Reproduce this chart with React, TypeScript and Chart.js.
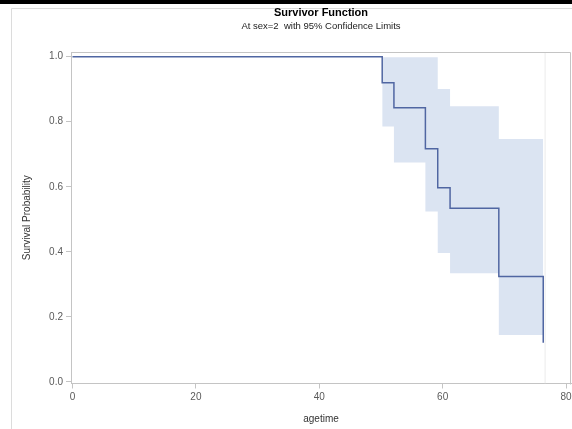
import React, { useEffect, useRef } from 'react';
import { Chart, registerables } from 'chart.js';

Chart.register(...registerables);

// ---- Data ----
const eventTimes = [0, 50.2, 52.1, 57.2, 59.2, 61.2, 69.1, 76.3];
const survival = [1.0, 0.92, 0.843, 0.717, 0.597, 0.534, 0.324, 0.12];
const bandTimes = [50.2, 52.1, 57.2, 59.2, 61.2, 69.1, 76.3];
const upperCL = [0.998, 0.998, 0.998, 0.901, 0.848, 0.747, 0.747];
const lowerCL = [0.785, 0.675, 0.524, 0.396, 0.334, 0.144, 0.144];
const refLineX = 76.6;
const xTicks = [0, 20, 40, 60, 80];
const yTicks = [0, 0.2, 0.4, 0.6, 0.8, 1.0];
const titleText = 'Survivor Function';
const subtitleText = 'At sex=2  with 95% Confidence Limits';
const xTitle = 'agetime';
const yTitle = 'Survival Probability';

const X_MIN = -0.24;
const X_MAX = 80.8;
const Y_MIN = -0.005;
const Y_MAX = 1.0145;

const FONT = '"Liberation Sans", Arial, sans-serif';
const FRAME = '#c4c4c4';

const decorPlugin = {
  id: 'decor',
  beforeDraw(chart: any) {
    const { ctx, width, height } = chart;
    ctx.save();
    ctx.fillStyle = '#ffffff';
    ctx.fillRect(0, 0, width, height);
    ctx.fillStyle = '#000000';
    ctx.fillRect(0, 0, width, 4);
    ctx.strokeStyle = '#dcdcdc';
    ctx.lineWidth = 1;
    ctx.beginPath();
    ctx.moveTo(11.5, height);
    ctx.lineTo(11.5, 8.5);
    ctx.lineTo(width, 8.5);
    ctx.stroke();
    ctx.restore();
  },
  afterDraw(chart: any) {
    const { ctx, chartArea } = chart;
    const { left, right, top, bottom } = chartArea;
    ctx.save();
    ctx.strokeStyle = FRAME;
    ctx.lineWidth = 1;
    ctx.beginPath();
    ctx.moveTo(Math.round(left) + 0.5, Math.round(top) + 0.5);
    ctx.lineTo(Math.round(right) - 0.5, Math.round(top) + 0.5);
    ctx.lineTo(Math.round(right) - 0.5, Math.round(bottom) + 0.5);
    ctx.stroke();
    const cx = (left + right) / 2;
    ctx.textAlign = 'center';
    ctx.textBaseline = 'middle';
    ctx.fillStyle = '#000000';
    ctx.font = `bold 11px ${FONT}`;
    ctx.fillText(titleText, cx, 13);
    ctx.fillStyle = '#222222';
    ctx.font = `9.5px ${FONT}`;
    ctx.fillText(subtitleText, cx, 26);
    ctx.restore();
  },
};

export default function App() {
  const ref = useRef<HTMLCanvasElement | null>(null);

  useEffect(() => {
    if (!ref.current) return;
    const survData = eventTimes.map((t, i) => ({ x: t, y: survival[i] }));
    const upData = bandTimes.map((t, i) => ({ x: t, y: upperCL[i] }));
    const loData = bandTimes.map((t, i) => ({ x: t, y: lowerCL[i] }));
    const refData = [
      { x: refLineX, y: Y_MIN },
      { x: refLineX, y: Y_MAX },
    ];
    const chart = new Chart(ref.current, {
      type: 'line',
      data: {
        datasets: [
          {
            label: 'Survival',
            data: survData,
            stepped: true,
            borderColor: '#5066a2',
            borderWidth: 1.5,
            pointRadius: 0,
            fill: false,
          },
          {
            label: 'Upper',
            data: upData,
            stepped: true,
            borderWidth: 0,
            borderColor: 'rgba(0,0,0,0)',
            backgroundColor: 'rgb(219,228,242)',
            pointRadius: 0,
            fill: '+1',
          },
          {
            label: 'Lower',
            data: loData,
            stepped: true,
            borderWidth: 0,
            borderColor: 'rgba(0,0,0,0)',
            pointRadius: 0,
            fill: false,
          },
          {
            label: 'Ref',
            data: refData,
            borderColor: '#ebebeb',
            borderWidth: 1,
            pointRadius: 0,
            fill: false,
          },
        ],
      },
      options: {
        responsive: false,
        animation: false,
        devicePixelRatio: 1,
        layout: { padding: { top: 52, right: 1, left: 0, bottom: 0 } },
        plugins: {
          legend: { display: false },
          tooltip: { enabled: false },
          title: { display: false },
        },
        scales: {
          x: {
            type: 'linear',
            min: X_MIN,
            max: X_MAX,
            afterBuildTicks: (s: any) => {
              s.ticks = xTicks.map((v) => ({ value: v }));
            },
            afterFit: (s: any) => {
              s.height = 45.5;
              s.paddingLeft = 0;
              s.paddingRight = 0;
            },
            grid: {
              drawOnChartArea: false,
              drawTicks: true,
              tickLength: 5,
              color: FRAME,
            },
            border: { display: true, color: FRAME },
            ticks: {
              color: '#5a5a5a',
              font: { family: FONT, size: 10 },
              padding: 3,
              maxRotation: 0,
              callback: (v: any) => String(v),
            },
            title: {
              display: true,
              text: xTitle,
              color: '#333333',
              font: { family: FONT, size: 10 },
              padding: { top: 0, bottom: 4 },
            },
          },
          y: {
            type: 'linear',
            min: Y_MIN,
            max: Y_MAX,
            afterBuildTicks: (s: any) => {
              s.ticks = yTicks.map((v) => ({ value: v }));
            },
            afterFit: (s: any) => {
              s.width = 71;
              s.paddingTop = 0;
              s.paddingBottom = 0;
            },
            grid: {
              drawOnChartArea: false,
              drawTicks: true,
              tickLength: 5,
              color: FRAME,
            },
            border: { display: true, color: FRAME },
            ticks: {
              color: '#5a5a5a',
              font: { family: FONT, size: 10 },
              padding: 3,
              callback: (v: any) => Number(v).toFixed(1),
            },
            title: {
              display: true,
              text: yTitle,
              color: '#333333',
              font: { family: FONT, size: 10 },
              padding: { top: 21, bottom: 0 },
            },
          },
        },
      },
      plugins: [decorPlugin],
    });
    return () => chart.destroy();
  }, []);

  return (
    <div style={{ position: 'absolute', left: 0, top: 0, width: 572, height: 429 }}>
      <canvas ref={ref} width={572} height={429} style={{ width: 572, height: 429, display: 'block' }} />
    </div>
  );
}
